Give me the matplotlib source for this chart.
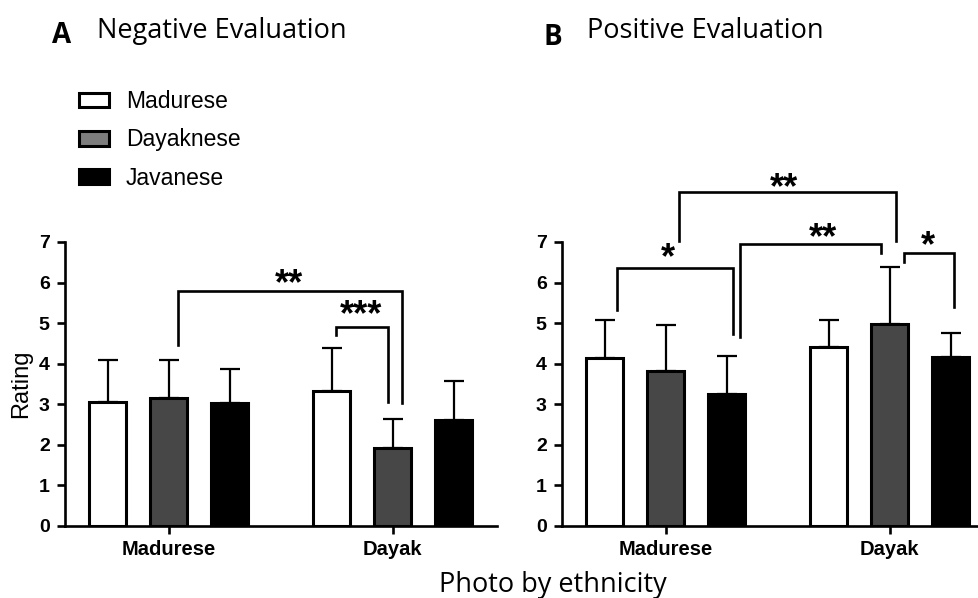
#!/usr/bin/env python3
"""
Negative / positive evaluation ratings by photo ethnicity.

Two-panel grouped bar chart (mean + SD) with significance brackets.
Output: out.png
"""

import matplotlib
matplotlib.use("Agg")
import matplotlib.pyplot as plt
from matplotlib.patches import Patch

# Data
GROUPS = ["Madurese", "Dayak"]
RATERS = ["Madurese", "Dayaknese", "Javanese"]

NEG_MEANS = {
	"Madurese": [3.05, 3.15, 3.02],
	"Dayak": [3.33, 1.92, 2.62],
}
NEG_SD = {
	"Madurese": [1.05, 0.93, 0.86],
	"Dayak": [1.05, 0.71, 0.96],
}

POS_MEANS = {
	"Madurese": [4.15, 3.82, 3.26],
	"Dayak": [4.40, 4.98, 4.16],
}
POS_SD = {
	"Madurese": [0.93, 1.13, 0.93],
	"Dayak": [0.68, 1.40, 0.60],
}

Y_TICKS = [0, 1, 2, 3, 4, 5, 6, 7]

# Significance brackets: (x left, x right, top, left leg end, right leg end,
#                         label, label x, label y)
NEG_BRACKETS = [
	(0.15, 3.82, 5.79, 4.46, 3.02, "**", 1.97, 6.12),
	(2.74, 3.59, 4.90, 4.70, 3.05, "***", 3.16, 5.34),
]
POS_BRACKETS = [
	(-0.80, 1.10, 6.36, 5.33, 4.73, "*", 0.04, 6.76),
	(1.21, 3.53, 6.96, 4.67, 6.72, "**", 2.58, 7.25),
	(0.22, 3.78, 8.23, 7.02, 7.02, "**", 1.94, 8.48),
	(3.91, 4.73, 6.73, 6.51, 5.40, "*", 4.30, 7.04),
]

BAR_COLORS = ["white", "#474747", "black"]
LEGEND_COLORS = ["white", "#7d7d7d", "black"]
GROUP_GAP = 3.67     # distance between group centres (in bar widths)
BAR_WIDTH = 0.6

SANS = ["Liberation Sans", "DejaVu Sans"]
TITLE_FONT = ["Open Sans", "DejaVu Sans"]


def draw_panel(ax, means, sds, brackets):
	"""Grouped bars with one-sided error bars and significance brackets."""
	for gi, group in enumerate(GROUPS):
		centre = gi * GROUP_GAP
		for ri in range(len(RATERS)):
			x = centre + (ri - 1)
			m = means[group][ri]
			s = sds[group][ri]
			ax.errorbar(x, m, yerr=[[0], [s]], fmt="none", ecolor="black",
						elinewidth=1.6, capsize=7.5, capthick=1.6, zorder=1)
			ax.bar(x, m, width=BAR_WIDTH, color=BAR_COLORS[ri],
				   edgecolor="black", linewidth=2.2, zorder=2)

	# Brackets
	for x1, x2, top, y1, y2, label, lx, ly in brackets:
		ax.plot([x1, x1, x2, x2], [y1, top, top, y2], color="black",
				lw=1.9, clip_on=False, solid_joinstyle="miter", zorder=3)
		ax.annotate(label, xy=(lx, ly), xytext=(0, -11.5),
					textcoords="offset points", ha="center", va="baseline",
					fontsize=26, fontweight="bold", family=SANS,
					annotation_clip=False)

	ax.set_xlim(-1.7, 5.38)
	ax.set_ylim(0, 7)
	ax.set_yticks(Y_TICKS)
	ax.set_xticks([gi * GROUP_GAP for gi in range(len(GROUPS))])
	ax.set_xticklabels(GROUPS)

	for side in ["top", "right"]:
		ax.spines[side].set_visible(False)
	for side in ["left", "bottom"]:
		ax.spines[side].set_linewidth(1.9)

	ax.tick_params(axis="both", direction="out", length=6, width=1.9)
	ax.tick_params(axis="y", pad=5)
	ax.tick_params(axis="x", pad=4)
	for lbl in ax.get_yticklabels():
		lbl.set_fontsize(14)
		lbl.set_fontweight("bold")
		lbl.set_family(SANS)
	for lbl in ax.get_xticklabels():
		lbl.set_fontsize(14.5)
		lbl.set_fontweight("bold")
		lbl.set_family(SANS)


def main():
	W, H = 979, 598
	fig = plt.figure(figsize=(W / 100, H / 100), dpi=100)

	bottom = 1 - 526 / H
	height = 284 / H
	ax_a = fig.add_axes([65 / W, bottom, 432 / W, height])
	ax_b = fig.add_axes([562 / W, bottom, 432 / W, height])

	draw_panel(ax_a, NEG_MEANS, NEG_SD, NEG_BRACKETS)
	draw_panel(ax_b, POS_MEANS, POS_SD, POS_BRACKETS)

	ax_a.set_ylabel("Rating", fontsize=17, family=SANS, labelpad=5)

	# Panel titles
	fig.text(52 / W, 1 - 43 / H, "A", fontsize=20, fontweight="bold",
			 family=TITLE_FONT, va="baseline")
	fig.text(97 / W, 1 - 38 / H, "Negative Evaluation", fontsize=19.5,
			 family=TITLE_FONT, va="baseline")
	fig.text(543 / W, 1 - 45 / H, "B", fontsize=20, fontweight="bold",
			 family=TITLE_FONT, va="baseline")
	fig.text(587 / W, 1 - 38 / H, "Positive Evaluation", fontsize=19.5,
			 family=TITLE_FONT, va="baseline")

	fig.text(553 / W, 1 - 592 / H, "Photo by ethnicity", fontsize=19.5,
			 family=TITLE_FONT, ha="center", va="baseline")

	# Legend
	handles = [Patch(facecolor=c, edgecolor="black", linewidth=2.2)
			   for c in LEGEND_COLORS]
	fig.legend(handles, RATERS, loc="upper left",
			   bbox_to_anchor=(79 / W, 1 - 90 / H), frameon=False,
			   prop={"family": SANS, "size": 16.5}, borderpad=0,
			   borderaxespad=0, handlelength=1.31, handleheight=0.61,
			   handletextpad=0.74, labelspacing=0.67)

	fig.savefig("out.png", dpi=100)
	plt.close(fig)


if __name__ == "__main__":
	main()
